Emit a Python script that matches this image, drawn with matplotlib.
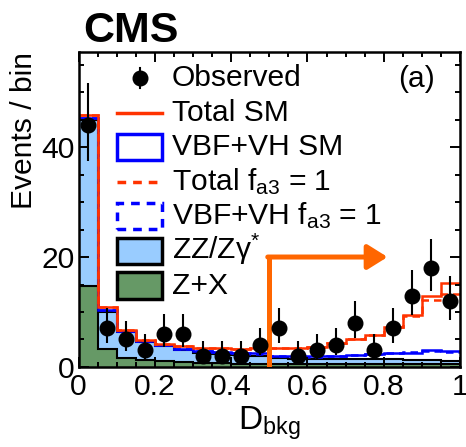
"""
D_bkg distribution, CMS style (panel a)
"""

import numpy as np
import matplotlib
matplotlib.use("Agg")
import matplotlib.pyplot as plt
from matplotlib.patches import Rectangle
from matplotlib.lines import Line2D
from matplotlib.ticker import MultipleLocator, FuncFormatter

plt.rcParams["font.family"] = ["Liberation Sans", "DejaVu Sans"]
plt.rcParams["mathtext.fontset"] = "custom"
plt.rcParams["mathtext.rm"] = "Liberation Sans"
plt.rcParams["mathtext.it"] = "Liberation Sans:italic"
plt.rcParams["mathtext.bf"] = "Liberation Sans:bold"

# 20 bins in D_bkg
bin_edges = np.linspace(0.0, 1.0, 21)

obs_counts = [44, 7, 5, 3, 6, 6, 2, 2, 2, 4, 7, 2, 3, 4, 8, 3, 7, 13, 18, 12]

# stacked backgrounds
zx_yield = [14.8, 3.3, 1.6, 1.2, 1.0, 0.9, 0.8, 0.7, 0.6, 0.6,
            0.5, 0.5, 0.5, 0.5, 0.5, 0.5, 0.5, 0.5, 0.5, 0.5]
zz_yield = [30.2, 6.7, 4.7, 3.4, 2.8, 2.1, 1.8, 1.7, 1.6, 1.4,
            1.1, 1.0, 0.9, 0.9, 0.9, 0.9, 0.9, 0.8, 0.8, 0.5]

# expectation lines (background included)
vbfvh_sm = [45.3, 10.3, 6.5, 4.8, 4.0, 3.2, 2.9, 2.8, 2.6, 2.5,
            2.0, 2.0, 2.0, 2.0, 2.2, 2.3, 2.5, 2.6, 3.0, 2.9]
vbfvh_fa3 = [45.3, 10.3, 6.5, 4.8, 4.0, 3.2, 2.9, 2.8, 2.6, 2.4,
             2.0, 1.9, 1.9, 2.0, 2.1, 2.3, 2.5, 2.7, 2.9, 2.8]
total_sm = [45.8, 11.0, 6.8, 4.9, 4.2, 3.8, 3.5, 3.4, 3.3, 3.4,
            3.5, 3.5, 3.6, 4.3, 5.1, 5.9, 7.2, 9.4, 13.0, 15.2]
total_fa3 = [45.8, 11.0, 6.8, 4.9, 4.2, 3.8, 3.5, 3.4, 3.3, 3.4,
             3.5, 3.5, 3.6, 4.3, 5.1, 5.9, 7.2, 9.2, 12.1, 13.2]

# cut shown by the arrow
cut_value = 0.5
arrow_level = 20
arrow_end = 0.81

C_ZZ = "#99ccff"
C_ZX = "#669966"
C_RED = "#ff3300"
C_BLUE = "#0000ff"
C_ARROW = "#ff6600"
FS = 21.6


def gehrels_errors(n):
    """Approximate 68% Poisson interval (Gehrels 1986)."""
    n = np.asarray(n, dtype=float)
    up = n + np.sqrt(n + 0.75) + 1.0
    lo = n * (1.0 - 1.0 / (9.0 * n) - 1.0 / (3.0 * np.sqrt(n))) ** 3
    return n - lo, up - n


fig = plt.figure(figsize=(4.66, 4.47), dpi=100)
ax = fig.add_axes([0.1685, 0.179, 0.8187, 0.7036])

zx = np.array(zx_yield)
zz_top = zx + np.array(zz_yield)

# backgrounds (filled, black outline)
ax.stairs(zz_top, bin_edges, fill=True, facecolor=C_ZZ, edgecolor="none")
ax.stairs(zz_top, bin_edges, color="k", lw=1.5, baseline=None)
ax.stairs(zx, bin_edges, fill=True, facecolor=C_ZX, edgecolor="none")
ax.stairs(zx, bin_edges, color="k", lw=1.5, baseline=None)

# expectation lines
ax.stairs(vbfvh_fa3, bin_edges, color=C_BLUE, lw=1.8, ls=(0, (3, 2)), baseline=None)
ax.stairs(vbfvh_sm, bin_edges, color=C_BLUE, lw=1.8, baseline=None)
ax.stairs(total_fa3, bin_edges, color=C_RED, lw=1.8, ls=(0, (3, 2)), baseline=None)
ax.stairs(total_sm, bin_edges, color=C_RED, lw=1.8, baseline=None)

# observed
centers = 0.5 * (bin_edges[1:] + bin_edges[:-1])
err_lo, err_hi = gehrels_errors(obs_counts)
ax.errorbar(centers, obs_counts, yerr=[err_lo, err_hi], fmt="o", color="k",
            ms=10.5, elinewidth=1.5, capsize=0, zorder=5)

# cut arrow
ax.plot([cut_value, cut_value], [0, arrow_level], color=C_ARROW, lw=3.6,
        solid_capstyle="butt", zorder=4)
ax.annotate("", xy=(arrow_end, arrow_level), xytext=(cut_value - 0.004, arrow_level),
            arrowprops=dict(arrowstyle="-|>,head_length=12,head_width=7.5",
                            mutation_scale=1, color=C_ARROW, lw=3.6,
                            shrinkA=0, shrinkB=0), zorder=4)

# axes
ax.set_xlim(0, 1)
ax.set_ylim(0, 57.2)
ax.xaxis.set_major_locator(MultipleLocator(0.2))
ax.xaxis.set_minor_locator(MultipleLocator(0.05))
ax.yaxis.set_major_locator(MultipleLocator(20))
ax.yaxis.set_minor_locator(MultipleLocator(5))
ax.xaxis.set_major_formatter(FuncFormatter(lambda x, _: f"{x:g}"))
ax.tick_params(which="both", direction="in", top=True, right=True,
               width=1.4, labelsize=FS)
ax.tick_params(which="major", length=7)
ax.tick_params(which="minor", length=3.6)
ax.tick_params(axis="x", pad=4.5)
ax.tick_params(axis="y", pad=3)
for s in ax.spines.values():
    s.set_linewidth(1.8)

ax.set_ylabel("Events / bin", fontsize=FS, loc="top")
ax.yaxis.set_label_coords(-0.106, 1.0)
ax.set_xlabel(r"D$_{\mathregular{bkg}}$", fontsize=24, va="baseline")
ax.xaxis.set_label_coords(0.5, -0.2)

fig.text(83 / 466, 1 - 42 / 447, "CMS", fontsize=31, weight="bold", va="baseline")
ax.text(0.934, 0.890, "(a)", fontsize=FS, ha="right", va="baseline",
        transform=ax.transAxes)

# legend, drawn by hand to keep the ROOT look
row_y = 0.919 - 0.11 * np.arange(7)
hx0, hx1, tx = 0.101, 0.219, 0.245
box_h = 0.083
tr = ax.transAxes


def leg_text(y, label):
    ax.text(tx, y - 0.0254, label, fontsize=FS, va="baseline", transform=tr)


def leg_line(y, color, ls="-"):
    ax.add_line(Line2D([hx0, hx1], [y, y], color=color, lw=2.5, ls=ls, transform=tr))


def leg_box(y, face, edge, ls="-"):
    ax.add_patch(Rectangle((hx0, y - box_h / 2), hx1 - hx0, box_h, transform=tr,
                           facecolor=face, edgecolor=edge, lw=2.5, ls=ls))


ym = row_y[0]
ax.add_line(Line2D([0.161, 0.161], [ym - 0.032, ym + 0.032], color="k", lw=1.5, transform=tr))
ax.add_line(Line2D([0.161], [ym], marker="o", ms=10.5, color="k", transform=tr))
leg_text(ym, "Observed")
leg_line(row_y[1], C_RED)
leg_text(row_y[1], "Total SM")
leg_box(row_y[2], "white", C_BLUE)
leg_text(row_y[2], "VBF+VH SM")
leg_line(row_y[3], C_RED, ls=(0, (2.5, 2)))
leg_text(row_y[3], r"Total f$_{\mathregular{a3}}$ = 1")
leg_box(row_y[4], "white", C_BLUE, ls=(0, (2.5, 2)))
leg_text(row_y[4], r"VBF+VH f$_{\mathregular{a3}}$ = 1")
leg_box(row_y[5], C_ZZ, "k")
leg_text(row_y[5], r"ZZ/Zγ$^{*}$")
leg_box(row_y[6], C_ZX, "k")
leg_text(row_y[6], "Z+X")

fig.savefig("out.png", dpi=100)
